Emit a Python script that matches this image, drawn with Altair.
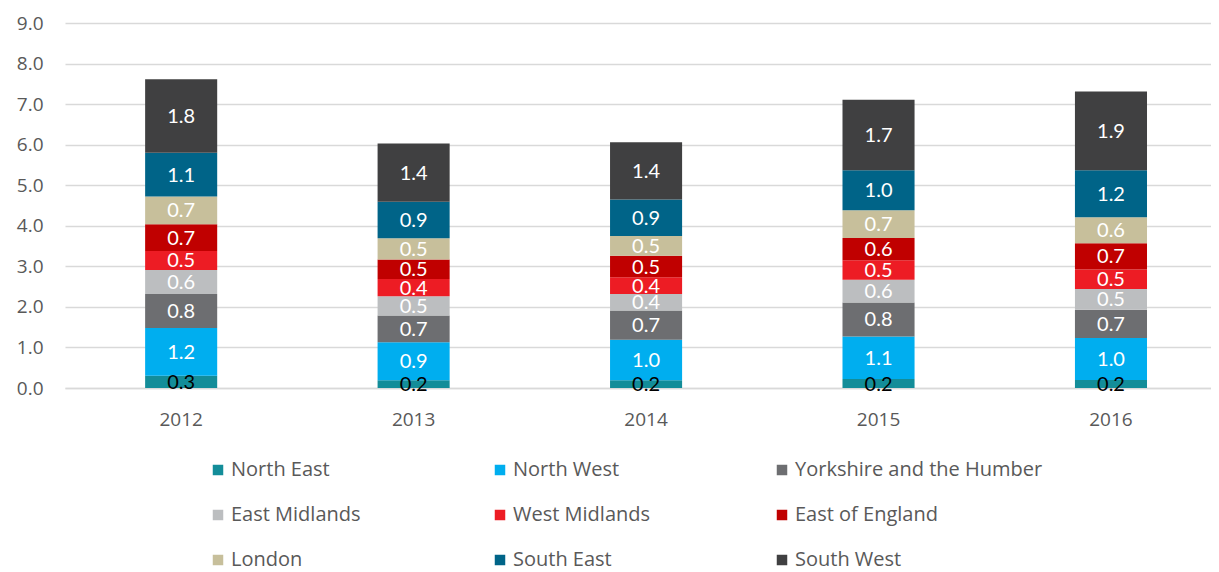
import altair as alt
import pandas as pd

years = ["2012", "2013", "2014", "2015", "2016"]
regions = ["North East", "North West", "Yorkshire and the Humber",
           "East Midlands", "West Midlands", "East of England",
           "London", "South East", "South West"]
colors = ["#138D99", "#00AEEF", "#6D6E71", "#BCBEC0", "#ED1C24",
          "#C00000", "#C7BF9B", "#006488", "#404041"]

north_east = [0.30, 0.19, 0.19, 0.22, 0.20]
north_west = [1.18, 0.94, 1.00, 1.05, 1.03]
yorkshire = [0.84, 0.66, 0.72, 0.84, 0.70]
east_midlands = [0.59, 0.47, 0.41, 0.56, 0.51]
west_midlands = [0.47, 0.43, 0.41, 0.48, 0.48]
east_of_england = [0.66, 0.48, 0.53, 0.55, 0.65]
london = [0.68, 0.52, 0.49, 0.68, 0.64]
south_east = [1.08, 0.90, 0.90, 0.99, 1.16]
south_west = [1.81, 1.44, 1.41, 1.74, 1.94]

series = [north_east, north_west, yorkshire, east_midlands, west_midlands,
          east_of_england, london, south_east, south_west]

rows = []
for ri, (reg, vals) in enumerate(zip(regions, series)):
    for y, v in zip(years, vals):
        rows.append({"year": y, "region": reg, "value": v, "order": ri})
df = pd.DataFrame(rows)

FONT = "Lato"
LFONT = "Open Sans"

base = alt.Chart(df).transform_stack(
    stack="value", groupby=["year"], sort=[alt.SortField("order")], as_=["v0", "v1"]
).transform_calculate(
    mid="(datum.v0 + datum.v1) / 2",
    label="format(datum.value, '.1f')",
    tcol="datum.region == 'North East' ? '#000000' : '#FFFFFF'",
)

xenc = alt.X(
    "year:N",
    title=None,
    sort=years,
    scale=alt.Scale(paddingInner=0.69, paddingOuter=0.31, align=0.556),
    axis=alt.Axis(labelAngle=0, ticks=False, labelPadding=22, labelFontSize=19,
                  labelColor="#595959", labelFont=LFONT, domainColor="#D9D9D9",
                  domainWidth=1.5),
)

bars = base.mark_bar().encode(
    x=xenc,
    y=alt.Y("v0:Q", title=None,
            scale=alt.Scale(domain=[0, 9], nice=False),
            axis=alt.Axis(values=[0, 1, 2, 3, 4, 5, 6, 7, 8, 9], format=".1f",
                          ticks=False, labelPadding=22, labelFontSize=19,
                          labelColor="#595959", labelFont=LFONT,
                          gridColor="#D9D9D9", gridWidth=1.5, domain=False)),
    y2="v1:Q",
    color=alt.Color(
        "region:N",
        sort=regions,
        scale=alt.Scale(domain=regions, range=colors),
        legend=alt.Legend(
            title=None, orient="none", legendX=143, legendY=437,
            direction="horizontal", columns=3, gridAlign="all",
            symbolType="square", symbolSize=110, symbolStrokeWidth=0,
            labelFontSize=20, labelFont=LFONT, labelColor="#595959",
            labelOffset=3, rowPadding=25, columnPadding=11, padding=0,
            labelLimit=400,
        ),
    ),
    order=alt.Order("order:Q"),
)

texts = base.mark_text(fontSize=20, font=FONT, baseline="middle", dy=1).encode(
    x=alt.X("year:N", sort=years),
    y=alt.Y("mid:Q"),
    text="label:N",
    color=alt.Color("tcol:N", scale=None),
)

chart = alt.layer(bars, texts).properties(
    width=1146, height=365,
    autosize=alt.AutoSizeParams(type="none"),
    padding={"left": 57, "top": 15, "right": 0, "bottom": 184},
).configure_view(stroke=None)

chart.save("out.html", embed_options={"renderer": "svg", "actions": False})
